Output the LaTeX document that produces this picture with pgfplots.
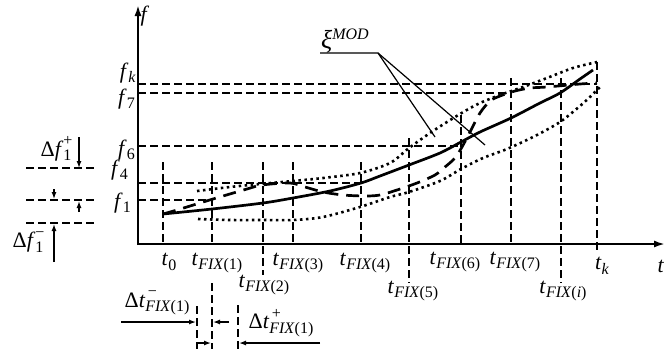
\documentclass[border=0pt]{standalone}
\usepackage{fontspec}
\setmainfont{Liberation Serif}
\usepackage{pgfplots}
\pgfplotsset{compat=1.18}
\usetikzlibrary{arrows.meta}

% sub- and superscripts set in text fonts
\newcommand{\sbs}[1]{\raisebox{-0.45ex}{\fontsize{16}{16}\selectfont #1}}
\newcommand{\sps}[1]{\raisebox{0.8ex}{\fontsize{16}{16}\selectfont #1}}
\newcommand{\both}[2]{\makebox[0pt][l]{\raisebox{10.5pt}{\fontsize{16}{16}\selectfont #1}}\sbs{#2}}
\newcommand{\tfix}[1]{\textit{t}\sbs{\textit{FIX}(#1)}}
\newcommand{\fl}[1]{\textit{f}\sbs{#1}}

\tikzset{
  grd/.style={black, line width=1.6pt, dash pattern=on 8pt off 4pt},
  lbl/.style={font=\fontsize{22}{25}\selectfont, inner sep=0pt},
  arr/.style={black, line width=1.3pt, -{Latex[length=7pt,width=5pt]}},
}

\begin{document}
\begin{tikzpicture}
\begin{axis}[
  scale only axis, width=665pt, height=349pt,
  xmin=0, xmax=665, ymin=0, ymax=349, y dir=reverse,
  hide axis, clip=false,
]
% axes
\addplot[black, line width=2pt, -{Latex[length=11pt,width=7pt]}] coordinates {(137,244) (665,244)};
\addplot[black, line width=2pt, -{Latex[length=11pt,width=7pt]}] coordinates {(138,245) (138,5)};

% reference levels
\addplot[grd] coordinates {(138,84) (597,84)};
\addplot[grd] coordinates {(138,93) (511,93)};
\addplot[grd] coordinates {(138,146) (461,146)};
\addplot[grd] coordinates {(138,183) (361,183)};
\addplot[grd] coordinates {(138,200) (212,200)};

% time marks
\addplot[grd] coordinates {(163,162) (163,244)};
\addplot[grd] coordinates {(212,162) (212,244)};
\addplot[grd] coordinates {(263,162) (263,275)};
\addplot[grd] coordinates {(293,162) (293,244)};
\addplot[grd] coordinates {(361,162) (361,244)};
\addplot[grd] coordinates {(409,138) (409,283)};
\addplot[grd] coordinates {(461,115) (461,244)};
\addplot[grd] coordinates {(511,78) (511,244)};
\addplot[grd] coordinates {(561,78) (561,283)};
\addplot[grd] coordinates {(597,62) (597,252)};

% tolerance band of the first level
\addplot[grd] coordinates {(26,168) (97,168)};
\addplot[grd] coordinates {(26,200) (97,200)};
\addplot[grd] coordinates {(26,223) (97,223)};
\addplot[arr] coordinates {(79,137) (79,168)};
\addplot[arr] coordinates {(54,189) (54,199)};
\addplot[arr] coordinates {(79,212) (79,201)};
\addplot[arr] coordinates {(54,262) (54,224)};

% tolerance band of the first fixing time
\addplot[grd] coordinates {(212,283) (212,349)};
\addplot[grd] coordinates {(197,306) (197,349)};
\addplot[grd] coordinates {(238,305) (238,349)};
\addplot[arr] coordinates {(121,322) (196,322)};
\addplot[arr] coordinates {(229,322) (213,322)};
\addplot[arr] coordinates {(196,343) (211,343)};
\addplot[arr] coordinates {(320,343) (239,343)};

% upper bound
\addplot[black, line width=2.6pt, dash pattern=on 2.5pt off 3.5pt, smooth, tension=0.5] coordinates {
 (197,191) (230,187) (260,184) (293,181) (323,178) (360,173) (390,163) (409,148)
 (430,133) (447,122) (465,111) (480,103) (500,95) (523,87) (547,78) (573,68) (597,62)};
% lower bound
\addplot[black, line width=2.6pt, dash pattern=on 2.5pt off 3.5pt, smooth, tension=0.5] coordinates {
 (198,219) (230,220) (263,220) (293,220) (323,217) (360,207) (390,197) (409,192)
 (440,181) (461,169) (483,158) (507,149) (535,136) (560,122) (580,106) (592,95) (600,87)};
% model curve
\addplot[black, line width=2.7pt, smooth, tension=0.5] coordinates {
 (163,214) (212,209) (263,203) (293,198) (330,191) (361,183) (380,176) (409,165)
 (440,153) (461,142) (480,132) (511,118) (540,103) (560,93) (580,79) (593,70)};
% measured process
\addplot[black, line width=2.7pt, dash pattern=on 13pt off 8pt, smooth, tension=0.5] coordinates {
 (163,214) (177,210) (213,199) (247,189) (262,185) (290,183) (305,187) (323,192)
 (343,195) (365,196) (380,195) (397,190) (417,183) (435,175) (445,167) (455,158)
 (462,147) (470,132) (480,113) (490,101) (500,96) (515,91) (530,88) (547,87) (580,84) (597,83)};

% pointer of the model label
\addplot[black, line width=1.2pt] coordinates {(320,53) (378,53) (435,137)};
\addplot[black, line width=1.2pt] coordinates {(378,53) (485,145)};
\node[lbl, anchor=south west] at (axis cs:321,53) {{\fontsize{26}{26}\selectfont\textit{ξ}}\raisebox{9pt}{\fontsize{16}{16}\selectfont\textit{MOD}}};

% axis labels
\node[lbl] at (axis cs:145,16) {\textit{f}};
\node[lbl] at (axis cs:661,266) {\textit{t}};
\node[lbl, anchor=east] at (axis cs:136,73) {\fl{\textit{k}}};
\node[lbl, anchor=east] at (axis cs:135,99) {\fl{7}};
\node[lbl, anchor=east] at (axis cs:135,150) {\fl{6}};
\node[lbl, anchor=east] at (axis cs:128,170) {\fl{4}};
\node[lbl, anchor=east] at (axis cs:131,203) {\fl{1}};

\node[lbl] at (axis cs:169,262) {\textit{t}\sbs{0}};
\node[lbl] at (axis cs:217,263) {\tfix{1}};
\node[lbl] at (axis cs:264,285) {\tfix{2}};
\node[lbl] at (axis cs:298,263) {\tfix{3}};
\node[lbl] at (axis cs:365,263) {\tfix{4}};
\node[lbl] at (axis cs:413,291) {\tfix{5}};
\node[lbl] at (axis cs:455,262) {\tfix{6}};
\node[lbl] at (axis cs:515,262) {\tfix{7}};
\node[lbl] at (axis cs:563,291) {\tfix{\textit{i}}};
\node[lbl] at (axis cs:602,266) {\textit{t}\sbs{\textit{k}}};

\node[lbl] at (axis cs:56,149) {Δ\textit{f}\both{+}{1}};
\node[lbl] at (axis cs:28,242) {Δ\textit{f}\both{−}{1}};
\node[lbl] at (axis cs:157,303) {Δ\textit{t}\both{\,−}{\textit{FIX}(1)}};
\node[lbl] at (axis cs:281,323) {Δ\textit{t}\both{\,+}{\textit{FIX}(1)}};
\end{axis}
\pgfresetboundingbox
\path[use as bounding box] (0,0) rectangle (665pt,349pt);
\end{tikzpicture}
\end{document}
